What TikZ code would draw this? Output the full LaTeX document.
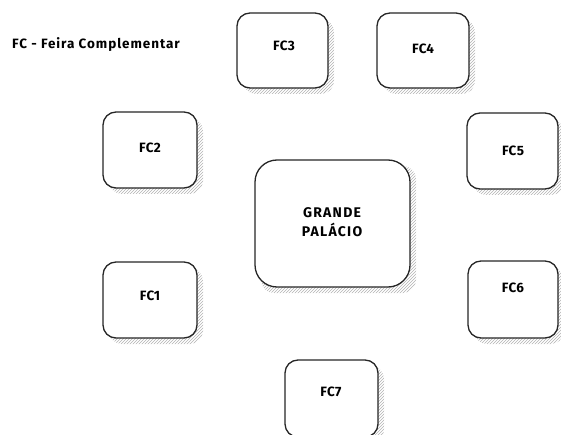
\documentclass[tikz,border=0pt]{standalone}
\usepackage{fontspec}
\setmainfont{Fira Sans}
\usetikzlibrary{patterns}
\tikzset{
  box/.style={draw=black!85, line width=1.3pt, rounded corners=13pt, fill=white,
    minimum width=#1, inner sep=0pt},
  shade/.style={pattern=north east lines, pattern color=black!30, draw=none, rounded corners=13pt},
  lab/.style={font=\bfseries\fontsize{13.5}{15}\selectfont\addfontfeature{LetterSpace=3}, align=center, inner sep=0pt},
}
\begin{document}
\begin{tikzpicture}[x=1pt,y=-1pt]
\useasboundingbox (0,0) rectangle (561,435);
% shadows
\foreach \a/\b/\c/\d in {237/13/328/88, 377/13/469/88, 467/113/558/189, 103/112/197/188, 255/160/410/287, 103/262/197/338, 468/261/558/338, 285/360/378/437}{
  \fill[shade] (\a+6,\b+6) rectangle (\c+6,\d+6);
}
\node[box=91pt, minimum height=75pt] (fc3) at (282.5,50.5) {};
\node[box=92pt, minimum height=75pt] (fc4) at (423,50.5) {};
\node[box=91pt, minimum height=76pt] (fc5) at (512.5,151) {};
\node[box=94pt, minimum height=76pt] (fc2) at (150,150) {};
\node[box=155pt, minimum height=127pt, rounded corners=22pt] (gp) at (332.5,223.5) {};
\node[box=94pt, minimum height=76pt] (fc1) at (150,300) {};
\node[box=90pt, minimum height=77pt] (fc6) at (513,299.5) {};
\node[box=93pt, minimum height=77pt] (fc7) at (331.5,398.5) {};
\node[lab] (t3) at (284,46) {FC3};
\node[lab] (t4) at (423,49) {FC4};
\node[lab] (t5) at (513,151) {FC5};
\node[lab] (t2) at (150,148) {FC2};
\node[lab] (t1) at (150,296) {FC1};
\node[lab] (t6) at (513,288) {FC6};
\node[lab] (t7) at (331,392) {FC7};
\node[lab, font=\bfseries\fontsize{14}{19}\selectfont\addfontfeature{LetterSpace=9}] (tg) at (332,222) {GRANDE\\PALÁCIO};
\node[lab, anchor=west, font=\bfseries\fontsize{13.5}{15}\selectfont\addfontfeature{LetterSpace=7}] (leg) at (12,45) {FC - Feira Complementar};
\end{tikzpicture}
\end{document}
